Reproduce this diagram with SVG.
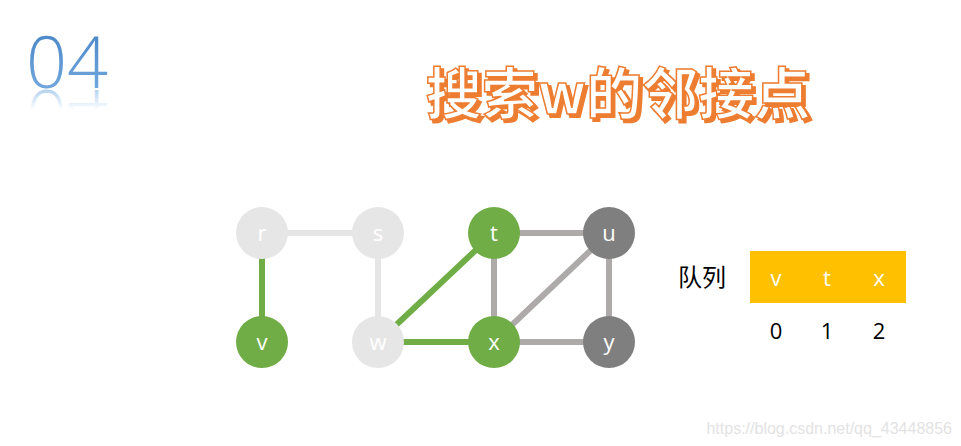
<svg xmlns="http://www.w3.org/2000/svg" width="961" height="446" viewBox="0 0 961 446">
<defs>
<linearGradient id="blue" x1="0" y1="0" x2="0" y2="1">
<stop offset="0" stop-color="#3d7cbf"/>
<stop offset="1" stop-color="#7fb2e5"/>
</linearGradient>
<linearGradient id="refl" gradientUnits="userSpaceOnUse" x1="0" y1="-89" x2="0" y2="-110">
<stop offset="0" stop-color="#7fb2e5" stop-opacity="0.6"/>
<stop offset="1" stop-color="#7fb2e5" stop-opacity="0"/>
</linearGradient>
</defs>
<style>
.edge{stroke-width:6;fill:none}
.lg{stroke:#e7e6e6}
.gr{stroke:#70ad47}
.dg{stroke:#aeaaaa}
.nl{font-family:"Open Sans","Liberation Sans",sans-serif;font-size:22px;fill:#ffffff;text-anchor:middle}
.q{font-family:"Open Sans","Liberation Sans",sans-serif;font-size:22px;text-anchor:middle}
.title{font-family:"Noto Sans CJK SC",sans-serif;font-weight:bold;font-size:56px;text-anchor:middle}
</style>
<rect width="961" height="446" fill="#ffffff"/>
<g id="num">
<text x="26" y="88" font-family="Open Sans,Lato,sans-serif" font-weight="300" font-size="72" fill="url(#blue)">04</text>
<text x="26" y="-90" transform="scale(1,-1)" font-family="Open Sans,Lato,sans-serif" font-weight="300" font-size="72" fill="url(#refl)">04</text>
</g>
<g id="title">
<text x="621" y="117" class="title" fill="#ed7d31" stroke="#ed7d31" stroke-width="2">搜索w的邻接点</text>
<text x="618" y="114" class="title" fill="#ffffff" stroke="#ed7d31" stroke-width="1.5">搜索w的邻接点</text>
</g>
<g id="edges">
<line class="edge lg" x1="262" y1="233" x2="378" y2="233"/>
<line class="edge lg" x1="378" y1="233" x2="378" y2="342"/>
<line class="edge gr" x1="262" y1="233" x2="262" y2="342"/>
<line class="edge gr" x1="378" y1="342" x2="494" y2="233"/>
<line class="edge gr" x1="378" y1="342" x2="494" y2="342"/>
<line class="edge dg" x1="494" y1="233" x2="609" y2="233"/>
<line class="edge dg" x1="494" y1="233" x2="494" y2="342"/>
<line class="edge dg" x1="494" y1="342" x2="609" y2="233"/>
<line class="edge dg" x1="609" y1="233" x2="609" y2="342"/>
<line class="edge dg" x1="494" y1="342" x2="609" y2="342"/>
</g>
<g id="node-r"><circle cx="262" cy="233" r="26" fill="#e7e6e6"/><text x="262" y="241" class="nl">r</text></g>
<g id="node-s"><circle cx="378" cy="233" r="26" fill="#e7e6e6"/><text x="378" y="241" class="nl">s</text></g>
<g id="node-t"><circle cx="494" cy="233" r="26" fill="#70ad47"/><text x="494" y="241" class="nl">t</text></g>
<g id="node-u"><circle cx="609" cy="233" r="26" fill="#7f7f7f"/><text x="609" y="241" class="nl">u</text></g>
<g id="node-v"><circle cx="262" cy="342" r="26" fill="#70ad47"/><text x="262" y="350" class="nl">v</text></g>
<g id="node-w"><circle cx="378" cy="342" r="26" fill="#e7e6e6"/><text x="378" y="350" class="nl">w</text></g>
<g id="node-x"><circle cx="494" cy="342" r="26" fill="#70ad47"/><text x="494" y="350" class="nl">x</text></g>
<g id="node-y"><circle cx="609" cy="342" r="26" fill="#7f7f7f"/><text x="609" y="350" class="nl">y</text></g>
<g id="queue">
<text x="702" y="286" font-family="Noto Sans CJK SC,sans-serif" font-size="24" text-anchor="middle" fill="#000000">队列</text>
<rect x="750" y="251" width="156" height="52" fill="#ffc000"/>
<text x="776" y="286" class="q" fill="#ffffff">v</text>
<text x="827" y="286" class="q" fill="#ffffff">t</text>
<text x="879" y="286" class="q" fill="#ffffff">x</text>
<text x="776" y="339" class="q" fill="#000000">0</text>
<text x="827" y="339" class="q" fill="#000000">1</text>
<text x="879" y="339" class="q" fill="#000000">2</text>
</g>
<text x="952" y="434" font-family="Liberation Sans,sans-serif" font-size="16" text-anchor="end" fill="#e3e3e3">https://blog.csdn.net/qq_43448856</text>
</svg>
